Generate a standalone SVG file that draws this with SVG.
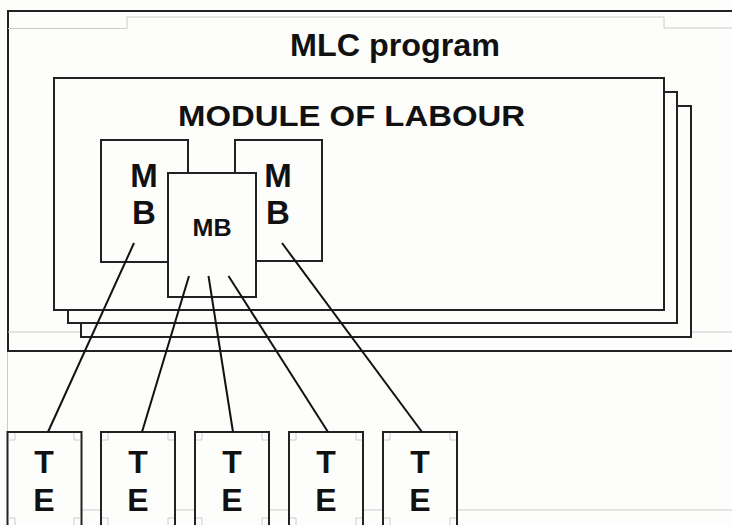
<svg xmlns="http://www.w3.org/2000/svg" width="732" height="525" viewBox="0 0 732 525">
<style>
.frame{fill:#fdfdfc;stroke:#222;stroke-width:2}
.faint{fill:none;stroke:#cccccc;stroke-width:1}
.conn{stroke:#111;stroke-width:2;fill:none}
.t{font-family:"Liberation Sans",Arial,sans-serif;font-weight:bold;fill:#111;text-anchor:middle}
</style>
<rect x="0" y="0" width="732" height="525" fill="#fdfdfc"/>
<g id="mlc-program">
<rect class="frame" x="8" y="11" width="740" height="340"/>
<path class="faint" d="M8 28.5H127V17H664V28H732M8 332H81M691 332H732M7.5 352V432"/>
<text class="t" x="290" y="56" font-size="31" style="text-anchor:start" textLength="210" lengthAdjust="spacingAndGlyphs">MLC program</text>
</g>
<g id="module-of-labour">
<rect class="frame" x="81" y="106" width="610" height="231"/>
<rect class="frame" x="68" y="92" width="609" height="231"/>
<rect class="frame" x="54" y="78" width="610" height="232"/>
<text class="t" x="178" y="126" font-size="29" style="text-anchor:start" textLength="347" lengthAdjust="spacingAndGlyphs">MODULE OF LABOUR</text>
</g>
<g id="mb-left">
<rect class="frame" x="101" y="140" width="87" height="122"/>
<text class="t" x="144" y="187" font-size="33">M</text>
<text class="t" x="144" y="224" font-size="33">B</text>
</g>
<g id="mb-right">
<rect class="frame" x="235" y="140" width="87" height="121"/>
<text class="t" x="278" y="187" font-size="33">M</text>
<text class="t" x="278" y="224" font-size="33">B</text>
</g>
<g id="mb-center">
<rect class="frame" x="168" y="173" width="88" height="124"/>
<text class="t" x="212" y="236" font-size="24" textLength="39" lengthAdjust="spacingAndGlyphs">MB</text>
</g>
<g id="te-boxes">
<path class="faint" d="M81 510H101M175 510H195M269 510H289M363 510H383M457 510H732"/>
<g id="te1"><rect class="frame" x="7.5" y="432" width="74" height="100"/><text class="t" x="44" y="473" font-size="32">T</text><text class="t" x="44" y="511" font-size="32">E</text></g>
<g id="te2"><rect class="frame" x="101" y="432" width="74" height="100"/><text class="t" x="138" y="473" font-size="32">T</text><text class="t" x="138" y="511" font-size="32">E</text></g>
<g id="te3"><rect class="frame" x="195" y="432" width="74" height="100"/><text class="t" x="232" y="473" font-size="32">T</text><text class="t" x="232" y="511" font-size="32">E</text></g>
<g id="te4"><rect class="frame" x="289" y="432" width="74" height="100"/><text class="t" x="326" y="473" font-size="32">T</text><text class="t" x="326" y="511" font-size="32">E</text></g>
<g id="te5"><rect class="frame" x="383" y="432" width="74" height="100"/><text class="t" x="420" y="473" font-size="32">T</text><text class="t" x="420" y="511" font-size="32">E</text></g>
<path class="faint" d="M8.5 440H15V433M74 433V440H80.5M102 440H108V433M168 433V440H174M196 440H202V433M262 433V440H268M290 440H296V433M356 433V440H362M384 440H390V433M450 433V440H456M8.5 518H15V525M74 525V518H80.5M102 518H108V525M168 525V518H174M196 518H202V525M262 525V518H268M290 518H296V525M356 525V518H362M384 518H390V525M450 525V518H456"/>
</g>
<g id="connectors">
<line class="conn" x1="134" y1="243" x2="48" y2="432"/>
<line class="conn" x1="189" y1="276" x2="142" y2="432"/>
<line class="conn" x1="208.5" y1="276" x2="233" y2="432"/>
<line class="conn" x1="228.5" y1="276" x2="328" y2="432"/>
<line class="conn" x1="282" y1="243" x2="422" y2="432"/>
</g>
</svg>
